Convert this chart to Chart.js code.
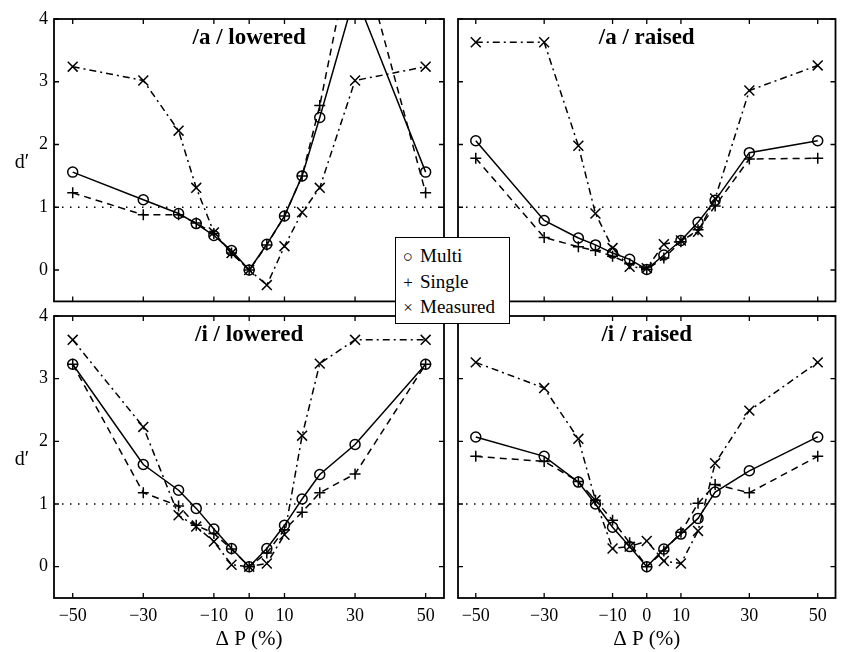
<!DOCTYPE html>
<html>
<head>
<meta charset="utf-8">
<script src="https://cdn.jsdelivr.net/npm/chart.js@4.4.0/dist/chart.umd.min.js"></script>
<style>
  body { margin: 0; background: #fff; }
  #wrap { position: relative; width: 844px; height: 652px; overflow: hidden; }
  #wrap canvas { position: absolute; left: 0; top: 0; }
  #legend {
    position: absolute; left: 395px; top: 237px; width: 113px; height: 80px;
    background: #fff; border: 1.5px solid #000; z-index: 5;
    font: 19px 'Liberation Serif', serif; color: #000; padding-top: 5px;
  }
  #legend div { height: 25.5px; line-height: 25.5px; white-space: nowrap; }
  #legend span.m { display: inline-block; width: 12px; margin-left: 6px; margin-right: 6px; text-align: center; font-size: 17px; }
</style>
</head>
<body>
<div id="wrap">
  <canvas id="c1" width="844" height="652"></canvas>
  <canvas id="c2" width="844" height="652"></canvas>
  <canvas id="c3" width="844" height="652"></canvas>
  <canvas id="c4" width="844" height="652"></canvas>
  <div id="legend"></div>
</div>
<script>
// ΔP (%) steps shared by every series
const deltaP = [-50, -30, -20, -15, -10, -5, 0, 5, 10, 15, 20, 30, 50];
const xTicks = [-50, -30, -10, 0, 10, 30, 50];
const yTicks = [0, 1, 2, 3, 4];
const threshold = 1;
const seriesNames = ['Multi', 'Single', 'Measured'];
const panelTitles = ['/a / lowered', '/a / raised', '/i / lowered', '/i / raised'];

// /a/ lowered
const aLowMulti    = [1.56, 1.12, 0.90, 0.74, 0.55, 0.31, 0, 0.41, 0.86, 1.50, 2.43, 4.4, 1.56];
const aLowSingle   = [1.23, 0.88, 0.88, 0.75, 0.58, 0.27, 0, 0.40, 0.86, 1.50, 2.62, 5.4, 1.23];
const aLowMeasured = [3.24, 3.02, 2.22, 1.31, 0.60, 0.27, 0, -0.24, 0.38, 0.92, 1.31, 3.02, 3.24];
// /a/ raised
const aRaiMulti    = [2.06, 0.79, 0.51, 0.40, 0.27, 0.17, 0.01, 0.24, 0.47, 0.76, 1.11, 1.87, 2.06];
const aRaiSingle   = [1.78, 0.52, 0.37, 0.31, 0.22, 0.10, 0.01, 0.19, 0.45, 0.64, 1.02, 1.77, 1.78];
const aRaiMeasured = [3.63, 3.63, 1.98, 0.90, 0.35, 0.05, 0.03, 0.41, 0.47, 0.61, 1.14, 2.86, 3.26];
// /i/ lowered
const iLowMulti    = [3.23, 1.63, 1.22, 0.93, 0.60, 0.29, 0, 0.29, 0.66, 1.08, 1.47, 1.95, 3.23];
const iLowSingle   = [3.23, 1.18, 0.97, 0.66, 0.53, 0.28, 0, 0.22, 0.59, 0.87, 1.18, 1.48, 3.23];
const iLowMeasured = [3.62, 2.23, 0.82, 0.64, 0.40, 0.03, 0, 0.05, 0.51, 2.09, 3.24, 3.62, 3.62];
// /i/ raised
const iRaiMulti    = [2.07, 1.76, 1.35, 1.00, 0.63, 0.32, 0, 0.28, 0.52, 0.77, 1.19, 1.53, 2.07];
const iRaiSingle   = [1.76, 1.68, 1.36, 1.06, 0.74, 0.38, 0, 0.25, 0.55, 1.01, 1.31, 1.18, 1.76];
const iRaiMeasured = [3.26, 2.85, 2.04, 1.06, 0.29, 0.32, 0.41, 0.09, 0.05, 0.57, 1.65, 2.49, 3.26];

const panelData = [
  [aLowMulti, aLowSingle, aLowMeasured],
  [aRaiMulti, aRaiSingle, aRaiMeasured],
  [iLowMulti, iLowSingle, iLowMeasured],
  [iRaiMulti, iRaiSingle, iRaiMeasured]
];

// where each plot box sits on the page
const boxes = [
  { left: 54,  right: 444, top: 19,  bottom: 301.4, xmin: -55.3, xmax: 55.2, xLabels: false, yLabels: true },
  { left: 458, right: 848, top: 19,  bottom: 301.4, xmin: -55.2, xmax: 55.2, xLabels: false, yLabels: false },
  { left: 54,  right: 444, top: 316, bottom: 598,   xmin: -55.3, xmax: 55.2, xLabels: true,  yLabels: true },
  { left: 458, right: 848, top: 316, bottom: 598,   xmin: -55.2, xmax: 55.2, xLabels: true,  yLabels: false }
];

const serif = "'Liberation Serif', serif";
const styles = [
  { dash: [], point: 'circle', radius: 5 },
  { dash: [7, 5], point: 'cross', radius: 5.5 },
  { dash: [7, 4, 2, 4], point: 'crossRot', radius: 7 }
];

const framePlugin = {
  id: 'frame',
  beforeDatasetsDraw(chart) {
    const { ctx, chartArea: a, scales: { y } } = chart;
    const yy = y.getPixelForValue(threshold);
    ctx.save();
    ctx.strokeStyle = '#000';
    ctx.lineWidth = 1.4;
    ctx.setLineDash([1.5, 6.5]);
    ctx.beginPath();
    ctx.moveTo(a.left, yy);
    ctx.lineTo(a.right, yy);
    ctx.stroke();
    ctx.restore();
  },
  afterDatasetsDraw(chart, args, opts) {
    const { ctx, chartArea: a, scales: { x, y } } = chart;
    ctx.save();
    ctx.strokeStyle = '#000';
    ctx.lineWidth = 1.8;
    ctx.strokeRect(a.left, a.top, a.right - a.left, a.bottom - a.top);
    ctx.lineWidth = 1.3;
    ctx.beginPath();
    xTicks.forEach(v => {
      const px = x.getPixelForValue(v);
      ctx.moveTo(px, a.bottom); ctx.lineTo(px, a.bottom - 5);
      ctx.moveTo(px, a.top); ctx.lineTo(px, a.top + 5);
    });
    yTicks.forEach(v => {
      const py = y.getPixelForValue(v);
      ctx.moveTo(a.left, py); ctx.lineTo(a.left + 5, py);
      ctx.moveTo(a.right, py); ctx.lineTo(a.right - 5, py);
    });
    ctx.stroke();
    ctx.fillStyle = '#000';
    ctx.textAlign = 'center';
    ctx.textBaseline = 'middle';
    ctx.font = 'bold 23px ' + serif;
    ctx.fillText(opts.title, x.getPixelForValue(0), a.top + 19);
    if (opts.yLabel) {
      ctx.font = '20px ' + serif;
      ctx.fillText('d\u2032', 22, (a.top + a.bottom) / 2 + 3);
    }
    ctx.restore();
  }
};

boxes.forEach((b, i) => {
  const xHeight = b.xLabels ? 652 - b.bottom : 1;
  const datasets = panelData[i].map((vals, k) => ({
    label: seriesNames[k],
    data: deltaP.map((p, j) => ({ x: p, y: vals[j] })),
    borderColor: '#000',
    backgroundColor: 'rgba(0,0,0,0)',
    borderWidth: 1.5,
    borderDash: styles[k].dash,
    pointStyle: styles[k].point,
    pointRadius: styles[k].radius,
    pointBorderWidth: 1.5,
    pointBorderColor: '#000',
    pointBackgroundColor: 'rgba(0,0,0,0)',
    tension: 0
  }));

  new Chart(document.getElementById('c' + (i + 1)), {
    type: 'line',
    data: { datasets },
    plugins: [framePlugin],
    options: {
      responsive: false,
      animation: false,
      events: [],
      layout: { padding: { left: 0, top: b.top, right: 844 - b.right, bottom: 652 - b.bottom - xHeight } },
      plugins: {
        legend: { display: false },
        tooltip: { enabled: false },
        frame: { title: panelTitles[i], yLabel: b.yLabels }
      },
      scales: {
        x: {
          type: 'linear',
          min: b.xmin,
          max: b.xmax,
          afterFit: s => { s.height = xHeight; },
          afterBuildTicks: s => { s.ticks = xTicks.map(v => ({ value: v })); },
          grid: { display: false, drawTicks: false },
          border: { display: false },
          ticks: {
            display: b.xLabels,
            color: '#000',
            padding: 7,
            maxRotation: 0,
            font: { family: serif, size: 18 },
            callback: v => (v < 0 ? '\u2212' + Math.abs(v) : String(v))
          },
          title: {
            display: b.xLabels,
            text: '\u0394 P (%)',
            color: '#000',
            padding: 0,
            font: { family: serif, size: 21 }
          }
        },
        y: {
          min: -0.5,
          max: 4,
          afterFit: s => { s.width = b.left; },
          afterBuildTicks: s => { s.ticks = yTicks.map(v => ({ value: v })); },
          grid: { display: false, drawTicks: false },
          border: { display: false },
          ticks: {
            display: b.yLabels,
            color: '#000',
            padding: 6,
            font: { family: serif, size: 18 }
          }
        }
      }
    }
  });
});

// legend box shared by the four panels
const marks = ['\u25CB', '+', '\u00D7'];
document.getElementById('legend').innerHTML = seriesNames
  .map((n, k) => '<div><span class="m">' + marks[k] + '</span>' + n + '</div>')
  .join('');
</script>
</body>
</html>
